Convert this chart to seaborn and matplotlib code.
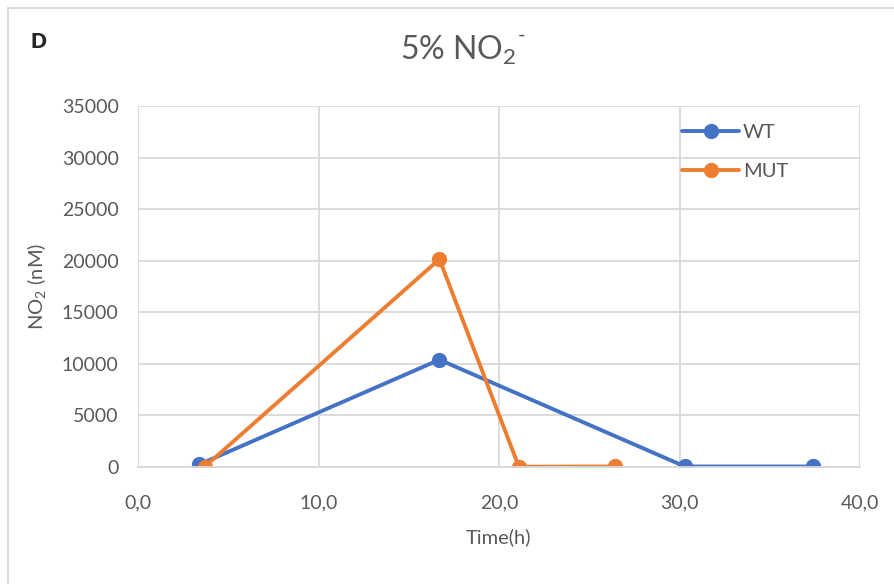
import pandas as pd
import seaborn as sns
import matplotlib.pyplot as plt
from matplotlib.lines import Line2D

# data
wt_time = [3.4, 16.7, 30.3, 37.4]
wt_no2 = [250, 10400, 50, 50]
mut_time = [3.7, 16.7, 21.1, 26.4]
mut_no2 = [30, 20150, 30, 50]
series = ["WT", "MUT"]
y_ticks = [0, 5000, 10000, 15000, 20000, 25000, 30000, 35000]
x_ticks = [0, 10, 20, 30, 40]

df = pd.DataFrame({
    "time": wt_time + mut_time,
    "no2": wt_no2 + mut_no2,
    "serie": [series[0]] * len(wt_time) + [series[1]] * len(mut_time),
})

sns.set_style("white")
plt.rcParams['font.family'] = ['Lato', 'DejaVu Sans']
plt.rcParams['mathtext.fontset'] = 'custom'
plt.rcParams['mathtext.rm'] = 'Lato'
plt.rcParams['mathtext.it'] = 'Lato'
plt.rcParams['mathtext.default'] = 'regular'

txt = "#595959"
fig = plt.figure(figsize=(8.94, 5.84), dpi=100)
ax = fig.add_axes([138 / 894, 117 / 584, 722 / 894, 361 / 584])

sns.lineplot(data=df, x="time", y="no2", hue="serie", sort=False,
             palette=["#4472C4", "#ED7D31"], marker="o", markersize=11,
             markeredgewidth=0, linewidth=2.8, ax=ax)

ax.set_xlim(0, 40)
ax.set_ylim(0, 35000)
ax.set_xticks(x_ticks)
ax.set_xticklabels([f"{v:.1f}".replace(".", ",") for v in x_ticks])
ax.set_yticks(y_ticks)
ax.set_yticklabels([str(v) for v in y_ticks])
ax.grid(True, color="#D9D9D9", linewidth=1.3)
ax.set_axisbelow(True)
for s in ["left", "right", "top"]:
    ax.spines[s].set_visible(False)
ax.spines["bottom"].set_color("#D9D9D9")
ax.spines["bottom"].set_linewidth(1.3)
ax.tick_params(length=0, labelsize=14, labelcolor=txt, pad=14)
ax.tick_params(axis="x", pad=20)

ax.set_xlabel("Time(h)", fontsize=14.5, color=txt, labelpad=12)
ax.set_ylabel("NO$_2$ (nM)", fontsize=14.5, color=txt, labelpad=10)

# title with a raised minus after the subscript
title = fig.text(458 / 894, 1 - 50 / 584, "5% NO$_2$", fontsize=23, color=txt,
                 ha="center", va="center")
ax.annotate("-", xy=(1.0, 0.92), xycoords=title, xytext=(1, 0),
            textcoords="offset points", fontsize=15, color=txt,
            ha="left", va="center", annotation_clip=False)
fig.text(30 / 894, 1 - 42 / 584, "D", fontsize=15, fontweight="heavy",
         ha="left", va="center")

ax.legend(loc="upper right", bbox_to_anchor=(0.92, 0.99), frameon=False,
          fontsize=14.5, labelcolor=txt, labelspacing=1.1, handlelength=2.8,
          handletextpad=0.2, borderaxespad=0.3)

# chart border
fig.add_artist(Line2D([8 / 894, 8 / 894], [0, 1 - 8 / 584], color="#D9D9D9",
                      linewidth=1.3, transform=fig.transFigure))
fig.add_artist(Line2D([8 / 894, 1], [1 - 8 / 584, 1 - 8 / 584], color="#D9D9D9",
                      linewidth=1.3, transform=fig.transFigure))

fig.savefig("out.png", dpi=100)
